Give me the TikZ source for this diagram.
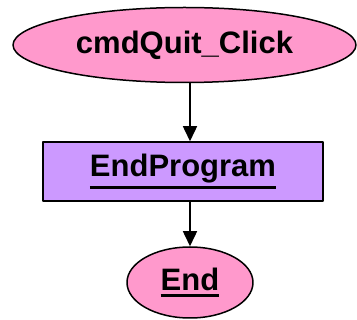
\documentclass[tikz,border=0pt]{standalone}
\usepackage{fontspec}
\setmainfont{Liberation Sans}
\usetikzlibrary{shapes.geometric,arrows.meta}
\definecolor{evtpink}{HTML}{FF99CC}
\definecolor{procviolet}{HTML}{CC99FF}
% underlined label, thick bar under the word
\newcommand{\uword}[1]{\vtop{\hbox{#1}\kern2.5pt\hrule height 3pt}}
\begin{document}
\begin{tikzpicture}[x=1pt, y=-1pt, line join=round, >={Triangle[length=15pt,width=14pt]},
    every node/.style={font=\fontsize{31}{37}\selectfont\bfseries, inner sep=0pt},
    event/.style={ellipse, draw, line width=1.5pt, fill=evtpink},
    proc/.style={rectangle, draw, line width=1.5pt, fill=procviolet}]
    \useasboundingbox (0,0) rectangle (357,320);
    \node[event, minimum width=343pt, minimum height=75pt] (click) at (184.5,45) {cmdQuit\_Click};
    \node[proc, minimum width=280pt, minimum height=59pt] (endprog) at (183,171.5) {\uword{EndProgram}};
    \node[event, minimum width=126pt, minimum height=71pt] (finish) at (190,282.5) {\uword{End}};
    \draw[->, line width=1.5pt] (click.south -| finish.center) -- (endprog.north -| finish.center);
    \draw[->, line width=1.5pt] (endprog.south -| finish.center) -- (finish.north);
\end{tikzpicture}
\end{document}
